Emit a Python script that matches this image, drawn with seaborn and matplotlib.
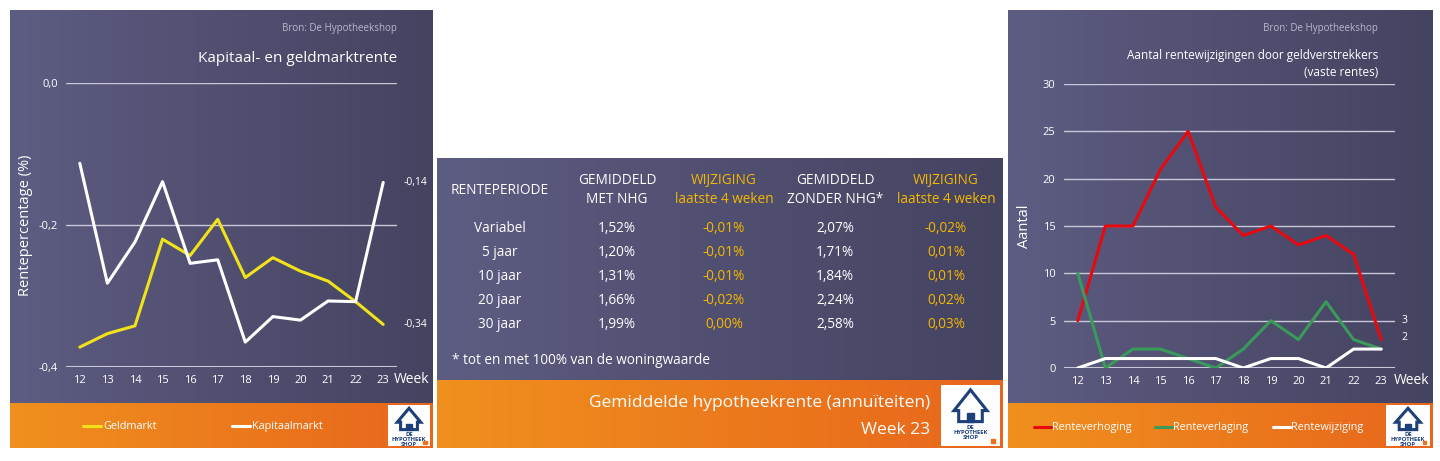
import numpy as np
import pandas as pd
import matplotlib
matplotlib.use("Agg")
import matplotlib.pyplot as plt
import seaborn as sns
from matplotlib.patches import Polygon, Rectangle

weeks = [12, 13, 14, 15, 16, 17, 18, 19, 20, 21, 22, 23]
geldmarkt = [-0.372, -0.353, -0.342, -0.220, -0.243, -0.192, -0.274, -0.246, -0.265, -0.279, -0.308, -0.34]
kapitaalmarkt = [-0.113, -0.282, -0.224, -0.139, -0.254, -0.249, -0.365, -0.329, -0.334, -0.307, -0.308, -0.14]
verhoging = [5, 15, 15, 21, 25, 17, 14, 15, 13, 14, 12, 3]
verlaging = [10, 0, 2, 2, 1, 0, 2, 5, 3, 7, 3, 2]
wijziging = [0, 1, 1, 1, 1, 1, 0, 1, 1, 0, 2, 2]

header = ["RENTEPERIODE", "GEMIDDELD\nMET NHG", "WIJZIGING\nlaatste 4 weken", "GEMIDDELD\nZONDER NHG*", "WIJZIGING\nlaatste 4 weken"]
periodes = ["Variabel", "5 jaar", "10 jaar", "20 jaar", "30 jaar"]
met_nhg = ["1,52%", "1,20%", "1,31%", "1,66%", "1,99%"]
wijz_met = ["-0,01%", "-0,01%", "-0,01%", "-0,02%", "0,00%"]
zonder_nhg = ["2,07%", "1,71%", "1,84%", "2,24%", "2,58%"]
wijz_zonder = ["-0,02%", "0,01%", "0,01%", "0,02%", "0,03%"]

sns.set_theme(style="white")
plt.rcParams['font.family'] = ['Open Sans', 'DejaVu Sans']
W, H = 1440, 461
fig = plt.figure(figsize=(14.4, 4.61), dpi=100)
fig.patch.set_facecolor("white")

def box(x0, y0, x1, y1):
    return [x0 / W, 1 - y1 / H, (x1 - x0) / W, (y1 - y0) / H]

def gradient(x0, y0, x1, y1, c0, c1):
    a = fig.add_axes(box(x0, y0, x1, y1))
    g = np.linspace(0, 1, 256)[None, :, None]
    c0 = np.array(matplotlib.colors.to_rgb(c0)); c1 = np.array(matplotlib.colors.to_rgb(c1))
    img = c0 * (1 - g) + c1 * g
    a.imshow(img, aspect="auto", extent=[0, 1, 0, 1])
    a.axis("off")
    return a

def logo(x0, y0, x1, y1):
    a = fig.add_axes(box(x0, y0, x1, y1))
    a.set_xlim(0, 1); a.set_ylim(0, 1)
    a.add_patch(Rectangle((0, 0), 1, 1, color="white"))
    a.add_patch(Polygon([[0.22, 0.58], [0.5, 0.92], [0.78, 0.58], [0.7, 0.58], [0.7, 0.4], [0.3, 0.4], [0.3, 0.58]],
                        closed=True, fc="white", ec="#1d3f7a", lw=2.2))
    a.add_patch(Rectangle((0.44, 0.4), 0.12, 0.14, color="#1d3f7a"))
    a.text(0.5, 0.34, "DE\nHYPOTHEEK\nSHOP", fontsize=4.2, fontweight="bold", color="#1d3f7a",
           va="top", ha="center", linespacing=0.95)
    a.add_patch(Rectangle((0.84, 0.05), 0.08, 0.06, color="#e8731c"))
    a.axis("off")

purple0, purple1 = "#5d5c82", "#444360"
orange0, orange1 = "#f0901e", "#e8661c"

# ---------- left panel ----------
gradient(10, 10, 433, 403, purple0, purple1)
gradient(10, 403, 433, 448, orange0, orange1)
logo(388, 405, 430, 446)
fig.text(397 / W, 1 - 28 / H, "Bron: De Hypotheekshop", fontsize=7, color="#b8b8cc", ha="right", va="center")
fig.text(397 / W, 1 - 58 / H, "Kapitaal- en geldmarktrente", fontsize=11, color="white", ha="right", va="center")

df1 = pd.DataFrame({"week": weeks * 2, "rente": geldmarkt + kapitaalmarkt,
                    "serie": ["Geldmarkt"] * 12 + ["Kapitaalmarkt"] * 12})
ax1 = fig.add_axes(box(66, 83, 397, 367))
ax1.patch.set_alpha(0)
for y in [-0.2, 0.0]:
    ax1.axhline(y, color="#c8c8d8", lw=1)
ax1.axhline(-0.4, color="#c8c8d8", lw=1.5)
sns.lineplot(data=df1, x="week", y="rente", hue="serie", palette={"Geldmarkt": "#f2e21a", "Kapitaalmarkt": "white"},
             lw=2.2, ax=ax1, legend=False)
ax1.set_xlim(11.5, 23.5); ax1.set_ylim(-0.4, 0)
ax1.set_yticks([-0.4, -0.2, 0.0]); ax1.set_yticklabels(["-0,4", "-0,2", "0,0"])
ax1.set_xticks(weeks)
ax1.tick_params(colors="white", labelsize=8, length=0, pad=6)
ax1.set_xlabel(""); ax1.set_ylabel("Rentepercentage (%)", color="white", fontsize=10.5, labelpad=4)
for s in ax1.spines.values(): s.set_visible(False)
ax1.text(23.75, -0.14, "-0,14", color="white", fontsize=7.5, va="center")
ax1.text(23.75, -0.34, "-0,34", color="white", fontsize=7.5, va="center")
fig.text(394 / W, 1 - 379 / H, "Week", color="white", fontsize=10, va="center")
for x, c, t in [(83, "#f2e21a", "Geldmarkt"), (232, "white", "Kapitaalmarkt")]:
    fig.add_artist(matplotlib.lines.Line2D([x / W, (x + 18) / W], [1 - 426 / H] * 2, color=c, lw=2.2))
    fig.text((x + 20) / W, 1 - 426 / H, t, color="white", fontsize=7.8, va="center")

# ---------- middle panel ----------
gradient(437, 158, 1003, 380, purple0, purple1)
gradient(437, 380, 1003, 448, orange0, orange1)
logo(941, 385, 1000, 446)
cols = [500, 617, 724, 835, 946]
yellow = "#f5b800"
for i, (x, h) in enumerate(zip(cols, header)):
    c = yellow if i in (2, 4) else "white"
    fig.text(x / W, 1 - 190 / H, h, color=c, fontsize=9.8, ha="center", va="center", linespacing=1.4)
for r in range(5):
    y = 1 - (228 + 24 * r) / H
    vals = [periodes[r], met_nhg[r], wijz_met[r], zonder_nhg[r], wijz_zonder[r]]
    for i, (x, v) in enumerate(zip(cols, vals)):
        c = yellow if i in (2, 4) else "white"
        fig.text(x / W, y, v, color=c, fontsize=9.8, ha="center", va="center")
fig.text(452 / W, 1 - 360 / H, "* tot en met 100% van de woningwaarde", color="white", fontsize=9.8, va="center")
fig.text(930 / W, 1 - 403 / H, "Gemiddelde hypotheekrente (annuïteiten)", color="white", fontsize=12.5, ha="right", va="center")
fig.text(930 / W, 1 - 430 / H, "Week 23", color="white", fontsize=12.5, ha="right", va="center")

# ---------- right panel ----------
gradient(1008, 10, 1433, 403, purple0, purple1)
gradient(1008, 403, 1433, 448, orange0, orange1)
logo(1386, 405, 1430, 446)
fig.text(1378 / W, 1 - 28 / H, "Bron: De Hypotheekshop", fontsize=7, color="#b8b8cc", ha="right", va="center")
fig.text(1378 / W, 1 - 55 / H, "Aantal rentewijzigingen door geldverstrekkers", fontsize=8.5, color="white", ha="right", va="center")
fig.text(1378 / W, 1 - 73 / H, "(vaste rentes)", fontsize=8.5, color="white", ha="right", va="center")

df2 = pd.DataFrame({"week": weeks * 3, "aantal": verhoging + verlaging + wijziging,
                    "serie": ["Renteverhoging"] * 12 + ["Renteverlaging"] * 12 + ["Rentewijziging"] * 12})
pal2 = {"Renteverhoging": "#e8090f", "Renteverlaging": "#3a9a5a", "Rentewijziging": "white"}
ax2 = fig.add_axes(box(1064, 84, 1395, 368))
ax2.patch.set_alpha(0)
for y in [5, 10, 15, 20, 25, 30]:
    ax2.axhline(y, color="#c8c8d8", lw=1)
ax2.axhline(0, color="#c8c8d8", lw=1.5)
sns.lineplot(data=df2, x="week", y="aantal", hue="serie", palette=pal2, lw=2.2, ax=ax2, legend=False)
ax2.set_xlim(11.5, 23.5); ax2.set_ylim(0, 30)
ax2.set_yticks([0, 5, 10, 15, 20, 25, 30]); ax2.set_xticks(weeks)
ax2.tick_params(colors="white", labelsize=8, length=0, pad=6)
ax2.set_xlabel(""); ax2.set_ylabel("Aantal", color="white", fontsize=10.5, labelpad=8)
for s in ax2.spines.values(): s.set_visible(False)
ax2.text(23.75, 5, "3", color="white", fontsize=7.5, va="center")
ax2.text(23.75, 3.2, "2", color="white", fontsize=7.5, va="center")
fig.text(1394 / W, 1 - 380 / H, "Week", color="white", fontsize=10, va="center")
for x, t in [(1034, "Renteverhoging"), (1155, "Renteverlaging"), (1273, "Rentewijziging")]:
    fig.add_artist(matplotlib.lines.Line2D([x / W, (x + 17) / W], [1 - 427 / H] * 2, color=pal2[t], lw=2.2))
    fig.text((x + 18) / W, 1 - 427 / H, t, color="white", fontsize=7.8, va="center")

fig.savefig("out.png", dpi=100, facecolor="white")
